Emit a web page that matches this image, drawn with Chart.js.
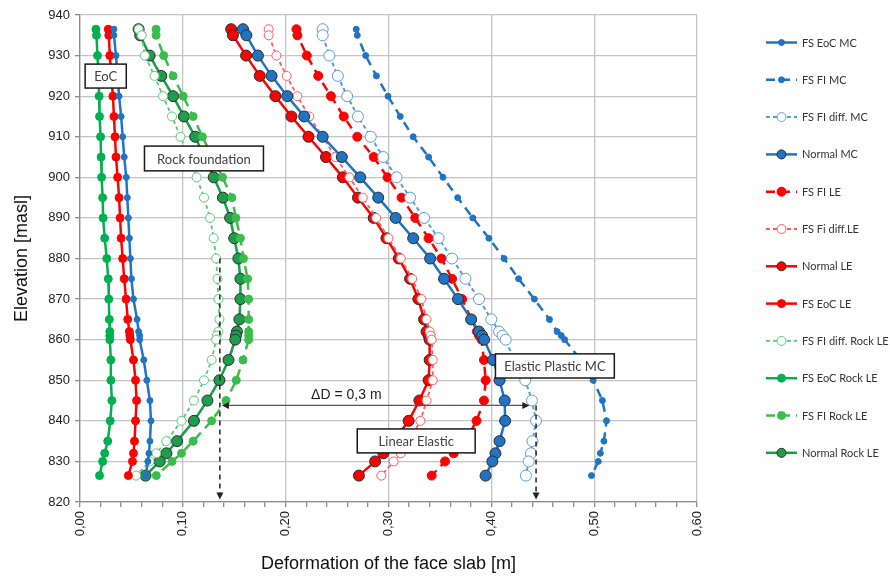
<!DOCTYPE html>
<html>
<head>
<meta charset="utf-8">
<script src="https://cdn.jsdelivr.net/npm/chart.js@4.4.1/dist/chart.umd.min.js"></script>
<style>
  html, body { margin: 0; padding: 0; background: #fff; }
  #wrap { width: 890px; height: 577px; }
</style>
</head>
<body>
<div id="wrap"><canvas id="chart" width="890" height="577"></canvas></div>
<script>
// elevations (masl) shared by all series
const elevations = [936.5, 935, 930, 925, 920, 915, 910, 905, 900, 895, 890, 885, 880, 875, 870, 865, 862, 861, 860, 855, 850, 845, 840, 835, 832, 830, 826.5];

// deformation of the face slab [m]
const fsEocMC = [0.033, 0.033, 0.035, 0.0365, 0.038, 0.040, 0.0415, 0.043, 0.045, 0.046, 0.047, 0.048, 0.049, 0.050, 0.052, 0.0555, 0.057, 0.058, 0.058, 0.062, 0.065, 0.068, 0.069, 0.068, 0.067, 0.066, 0.064];
const fsFiMC = [0.2686, 0.2696, 0.2778, 0.2882, 0.2995, 0.3114, 0.324, 0.339, 0.353, 0.3673, 0.382, 0.3977, 0.4124, 0.4265, 0.4418, 0.4565, 0.464, 0.468, 0.4713, 0.487, 0.499, 0.508, 0.512, 0.5095, 0.506, 0.504, 0.4974];
const fsFiDiffMC = [0.236, 0.236, 0.2425, 0.2507, 0.2598, 0.2703, 0.2827, 0.2948, 0.3078, 0.321, 0.3346, 0.3487, 0.3618, 0.3748, 0.388, 0.400, 0.4075, 0.411, 0.414, 0.422, 0.433, 0.4395, 0.4435, 0.440, 0.4385, 0.4363, 0.4336];
const normalMC = [0.1585, 0.1618, 0.173, 0.1863, 0.2016, 0.218, 0.236, 0.2546, 0.2725, 0.290, 0.307, 0.324, 0.3405, 0.354, 0.3676, 0.3804, 0.388, 0.391, 0.393, 0.4017, 0.408, 0.413, 0.4134, 0.408, 0.404, 0.401, 0.3944];
const fsFiLE = [0.2105, 0.2114, 0.2206, 0.2317, 0.244, 0.2565, 0.2696, 0.2856, 0.299, 0.3127, 0.326, 0.339, 0.3515, 0.3618, 0.3716, 0.3807, 0.386, 0.388, 0.3905, 0.3928, 0.3945, 0.3928, 0.3856, 0.375, 0.3634, 0.355, 0.342];
const fsFiDiffLE = [0.1835, 0.1835, 0.191, 0.201, 0.2114, 0.223, 0.236, 0.2484, 0.262, 0.275, 0.288, 0.300, 0.312, 0.323, 0.332, 0.337, 0.340, 0.341, 0.342, 0.343, 0.343, 0.337, 0.331, 0.320, 0.312, 0.305, 0.293];
const normalLE = [0.147, 0.1487, 0.1615, 0.1748, 0.190, 0.2056, 0.2222, 0.2392, 0.2556, 0.2703, 0.2856, 0.298, 0.310, 0.321, 0.329, 0.3346, 0.337, 0.339, 0.340, 0.340, 0.339, 0.330, 0.3196, 0.305, 0.295, 0.287, 0.2712];
const fsEocLE = [0.0275, 0.028, 0.029, 0.0305, 0.032, 0.033, 0.034, 0.035, 0.0366, 0.038, 0.039, 0.040, 0.0415, 0.043, 0.0448, 0.0464, 0.048, 0.0485, 0.049, 0.052, 0.054, 0.055, 0.054, 0.053, 0.052, 0.051, 0.047];
const fsFiDiffRock = [0.057, 0.060, 0.063, 0.0725, 0.0807, 0.0895, 0.0977, 0.106, 0.1134, 0.1206, 0.1265, 0.130, 0.1324, 0.1337, 0.1346, 0.1356, 0.1346, 0.133, 0.1324, 0.128, 0.1206, 0.1108, 0.0987, 0.084, 0.0742, 0.0676, 0.0546];
const fsEocRock = [0.0155, 0.016, 0.017, 0.018, 0.0186, 0.019, 0.020, 0.0205, 0.021, 0.022, 0.0225, 0.024, 0.026, 0.0275, 0.028, 0.0285, 0.029, 0.029, 0.029, 0.030, 0.030, 0.031, 0.0294, 0.027, 0.024, 0.022, 0.019];
const fsFiRock = [0.074, 0.074, 0.0814, 0.0905, 0.1003, 0.110, 0.119, 0.129, 0.1386, 0.1477, 0.1516, 0.156, 0.159, 0.163, 0.164, 0.164, 0.164, 0.164, 0.164, 0.1585, 0.152, 0.142, 0.128, 0.110, 0.0987, 0.0895, 0.0742];
const normalRock = [0.057, 0.0585, 0.0677, 0.079, 0.0905, 0.101, 0.112, 0.121, 0.130, 0.139, 0.146, 0.150, 0.154, 0.156, 0.156, 0.155, 0.1526, 0.1516, 0.151, 0.1444, 0.1356, 0.1239, 0.1108, 0.0944, 0.084, 0.0775, 0.0637];

const seriesNames = ['FS EoC MC', 'FS FI MC', 'FS FI diff. MC', 'Normal MC', 'FS FI LE', 'FS Fi diff.LE', 'Normal LE', 'FS EoC LE', 'FS FI diff. Rock LE', 'FS EoC Rock LE', 'FS FI Rock LE', 'Normal Rock LE'];
const xTickLabels = ['0,00', '0,10', '0,20', '0,30', '0,40', '0,50', '0,60'];
const yTickLabels = ['820', '830', '840', '850', '860', '870', '880', '890', '900', '910', '920', '930', '940'];

const BLUE = '#1f74c4', RED = '#ff0000', GREEN = '#00b050';
const EDGE = '#2b2b2b';

function pts(values) {
    return values.map((v, i) => ({ x: v, y: elevations[i] }));
}

// line + marker look for each series
function style(color, opts) {
    return Object.assign({
        borderColor: color,
        backgroundColor: color,
        pointBackgroundColor: color,
        pointBorderColor: color,
        pointBorderWidth: 1,
        pointRadius: 3.5,
        borderWidth: 2.5,
        borderDash: [],
        showLine: true,
        tension: 0
    }, opts || {});
}

const styles = [
    style(BLUE, { pointRadius: 3 }),
    style(BLUE, { pointRadius: 3, borderDash: [9, 6] }),
    style('#5b9bd5', { pointRadius: 5.5, pointBackgroundColor: '#fff', borderDash: [4, 3], borderWidth: 2 }),
    style(BLUE, { pointRadius: 5.5, pointBorderColor: EDGE }),
    style(RED, { pointRadius: 4.5, borderDash: [9, 6] }),
    style('#ff5a5a', { pointRadius: 4.5, pointBackgroundColor: '#fff', borderDash: [4, 3], borderWidth: 1.8 }),
    style(RED, { pointRadius: 5.5, pointBorderColor: EDGE }),
    style(RED, { pointRadius: 4 }),
    style('#5cc878', { pointRadius: 4.5, pointBackgroundColor: '#fff', borderDash: [4, 3], borderWidth: 1.8 }),
    style(GREEN, { pointRadius: 4 }),
    style('#3cbc4c', { pointRadius: 4, borderDash: [9, 6] }),
    style('#14a046', { pointRadius: 5.5, pointBackgroundColor: '#1e9e4a', pointBorderColor: EDGE })
];

const seriesValues = [fsEocMC, fsFiMC, fsFiDiffMC, normalMC, fsFiLE, fsFiDiffLE, normalLE, fsEocLE, fsFiDiffRock, fsEocRock, fsFiRock, normalRock];

const datasets = seriesValues.map((vals, i) => Object.assign({
    label: seriesNames[i],
    data: pts(vals)
}, styles[i]));

// text boxes and arrows, placed in data units
const boxes = [
    { text: 'EoC', x0: 0.005, x1: 0.045, y0: 927.9, y1: 922.0 },
    { text: 'Rock foundation', x0: 0.0627, x1: 0.1784, y0: 907.7, y1: 901.6 },
    { text: 'Elastic Plastic MC', x0: 0.404, x1: 0.5196, y0: 856.5, y1: 850.55 },
    { text: 'Linear Elastic', x0: 0.2696, x1: 0.3843, y0: 838.0, y1: 832.1 }
];

function arrowHead(ctx, x, y, dir) {
    const s = 5;
    ctx.beginPath();
    if (dir === 'down') {
        ctx.moveTo(x, y); ctx.lineTo(x - s * 0.7, y - s * 1.4); ctx.lineTo(x + s * 0.7, y - s * 1.4);
    } else if (dir === 'left') {
        ctx.moveTo(x, y); ctx.lineTo(x + s * 1.4, y - s * 0.7); ctx.lineTo(x + s * 1.4, y + s * 0.7);
    } else {
        ctx.moveTo(x, y); ctx.lineTo(x - s * 1.4, y - s * 0.7); ctx.lineTo(x - s * 1.4, y + s * 0.7);
    }
    ctx.closePath();
    ctx.fill();
}

const annotations = {
    id: 'annotations',
    afterDatasetsDraw(chart) {
        const ctx = chart.ctx;
        const xs = chart.scales.x, ys = chart.scales.y;
        ctx.save();

        // vertical dashed arrows
        ctx.strokeStyle = '#222';
        ctx.fillStyle = '#222';
        ctx.lineWidth = 1.5;
        ctx.setLineDash([5, 4]);
        [[0.136, 880], [0.4435, 843.8]].forEach(([dx, top]) => {
            const px = xs.getPixelForValue(dx);
            ctx.beginPath();
            ctx.moveTo(px, ys.getPixelForValue(top));
            ctx.lineTo(px, ys.getPixelForValue(821.2));
            ctx.stroke();
            arrowHead(ctx, px, ys.getPixelForValue(820.6), 'down');
        });
        ctx.setLineDash([]);

        // horizontal difference arrow
        const ay = ys.getPixelForValue(843.8);
        const ax0 = xs.getPixelForValue(0.138), ax1 = xs.getPixelForValue(0.437);
        ctx.strokeStyle = '#555';
        ctx.lineWidth = 1.2;
        ctx.beginPath();
        ctx.moveTo(ax0 + 4, ay);
        ctx.lineTo(ax1 - 4, ay);
        ctx.stroke();
        ctx.fillStyle = '#222';
        arrowHead(ctx, ax0, ay, 'left');
        arrowHead(ctx, ax1, ay, 'right');

        ctx.font = '14px "Liberation Sans", Arial, sans-serif';
        ctx.fillStyle = '#222';
        ctx.textAlign = 'center';
        ctx.textBaseline = 'middle';
        ctx.fillText('\u0394D = 0,3 m', xs.getPixelForValue(0.259), ys.getPixelForValue(846.3));

        // labelled boxes
        boxes.forEach(b => {
            const x0 = xs.getPixelForValue(b.x0), x1 = xs.getPixelForValue(b.x1);
            const y0 = ys.getPixelForValue(b.y0), y1 = ys.getPixelForValue(b.y1);
            ctx.fillStyle = '#fff';
            ctx.fillRect(x0, y0, x1 - x0, y1 - y0);
            ctx.strokeStyle = '#1a1a1a';
            ctx.lineWidth = 1.5;
            ctx.strokeRect(x0, y0, x1 - x0, y1 - y0);
            ctx.fillStyle = '#404040';
            ctx.font = '13px Lato, "Liberation Sans", sans-serif';
            ctx.fillText(b.text, (x0 + x1) / 2, (y0 + y1) / 2 + 1);
        });
        ctx.restore();
    }
};

// legend on the right: short line with its marker, then the name
const sideLegend = {
    id: 'sideLegend',
    afterDraw(chart) {
        const ctx = chart.ctx;
        ctx.save();
        chart.data.datasets.forEach((ds, i) => {
            const y = 42.5 + i * 37.3;
            ctx.strokeStyle = ds.borderColor;
            ctx.lineWidth = ds.borderWidth;
            ctx.setLineDash(ds.borderDash);
            ctx.beginPath();
            ctx.moveTo(766, y);
            ctx.lineTo(797, y);
            ctx.stroke();
            ctx.setLineDash([]);
            ctx.beginPath();
            ctx.arc(781.5, y, Math.min(ds.pointRadius, 4.5), 0, Math.PI * 2);
            ctx.fillStyle = ds.pointBackgroundColor;
            ctx.fill();
            ctx.lineWidth = 1;
            ctx.strokeStyle = ds.pointBorderColor;
            ctx.stroke();
            ctx.fillStyle = '#333';
            ctx.font = '11px Lato, "Liberation Sans", sans-serif';
            ctx.textAlign = 'left';
            ctx.textBaseline = 'middle';
            ctx.fillText(ds.label, 802, y + 0.5);
        });
        ctx.restore();
    }
};

function isMajor(v) {
    return Math.round(v * 100) % 10 === 0;
}

new Chart(document.getElementById('chart').getContext('2d'), {
    type: 'scatter',
    data: { datasets: datasets },
    options: {
        responsive: false,
        animation: false,
        devicePixelRatio: 1,
        layout: { padding: { top: 15, right: 193, left: 0, bottom: 0 } },
        plugins: {
            legend: { display: false },
            tooltip: { enabled: false }
        },
        scales: {
            x: {
                type: 'linear',
                min: 0,
                max: 0.6,
                afterFit: s => { s.height = 75; },
                afterBuildTicks: s => {
                    const t = [];
                    for (let k = 0; k <= 30; k++) t.push({ value: k / 50 });
                    s.ticks = t;
                },
                ticks: {
                    autoSkip: false,
                    minRotation: 90,
                    maxRotation: 90,
                    padding: 4,
                    color: '#222',
                    font: { size: 13, family: '"Liberation Sans", Arial, sans-serif' },
                    callback: v => isMajor(v) ? xTickLabels[Math.round(v * 10)] : ''
                },
                grid: {
                    color: c => isMajor(c.tick.value) ? '#c4c4c4' : 'rgba(0,0,0,0)',
                    tickColor: '#8c8c8c',
                    tickLength: 5,
                    lineWidth: 1.3
                },
                border: { color: '#8c8c8c', width: 1.3 },
                title: {
                    display: true,
                    text: 'Deformation of the face slab [m]',
                    color: '#111',
                    font: { size: 18, family: '"Liberation Sans", Arial, sans-serif' },
                    padding: { top: 0, bottom: 2 }
                }
            },
            y: {
                min: 820,
                max: 940,
                afterFit: s => { s.width = 80; },
                ticks: {
                    stepSize: 10,
                    padding: 5,
                    color: '#222',
                    font: { size: 13, family: '"Liberation Sans", Arial, sans-serif' },
                    callback: v => yTickLabels[Math.round((v - 820) / 10)]
                },
                grid: { color: '#c4c4c4', tickColor: '#8c8c8c', tickLength: 5, lineWidth: 1.3 },
                border: { color: '#8c8c8c', width: 1.3 },
                title: {
                    display: true,
                    text: 'Elevation [masl]',
                    color: '#111',
                    font: { size: 18, family: '"Liberation Sans", Arial, sans-serif' },
                    padding: { top: 11, bottom: 0 }
                }
            }
        }
    },
    plugins: [annotations, sideLegend]
});
</script>
</body>
</html>
